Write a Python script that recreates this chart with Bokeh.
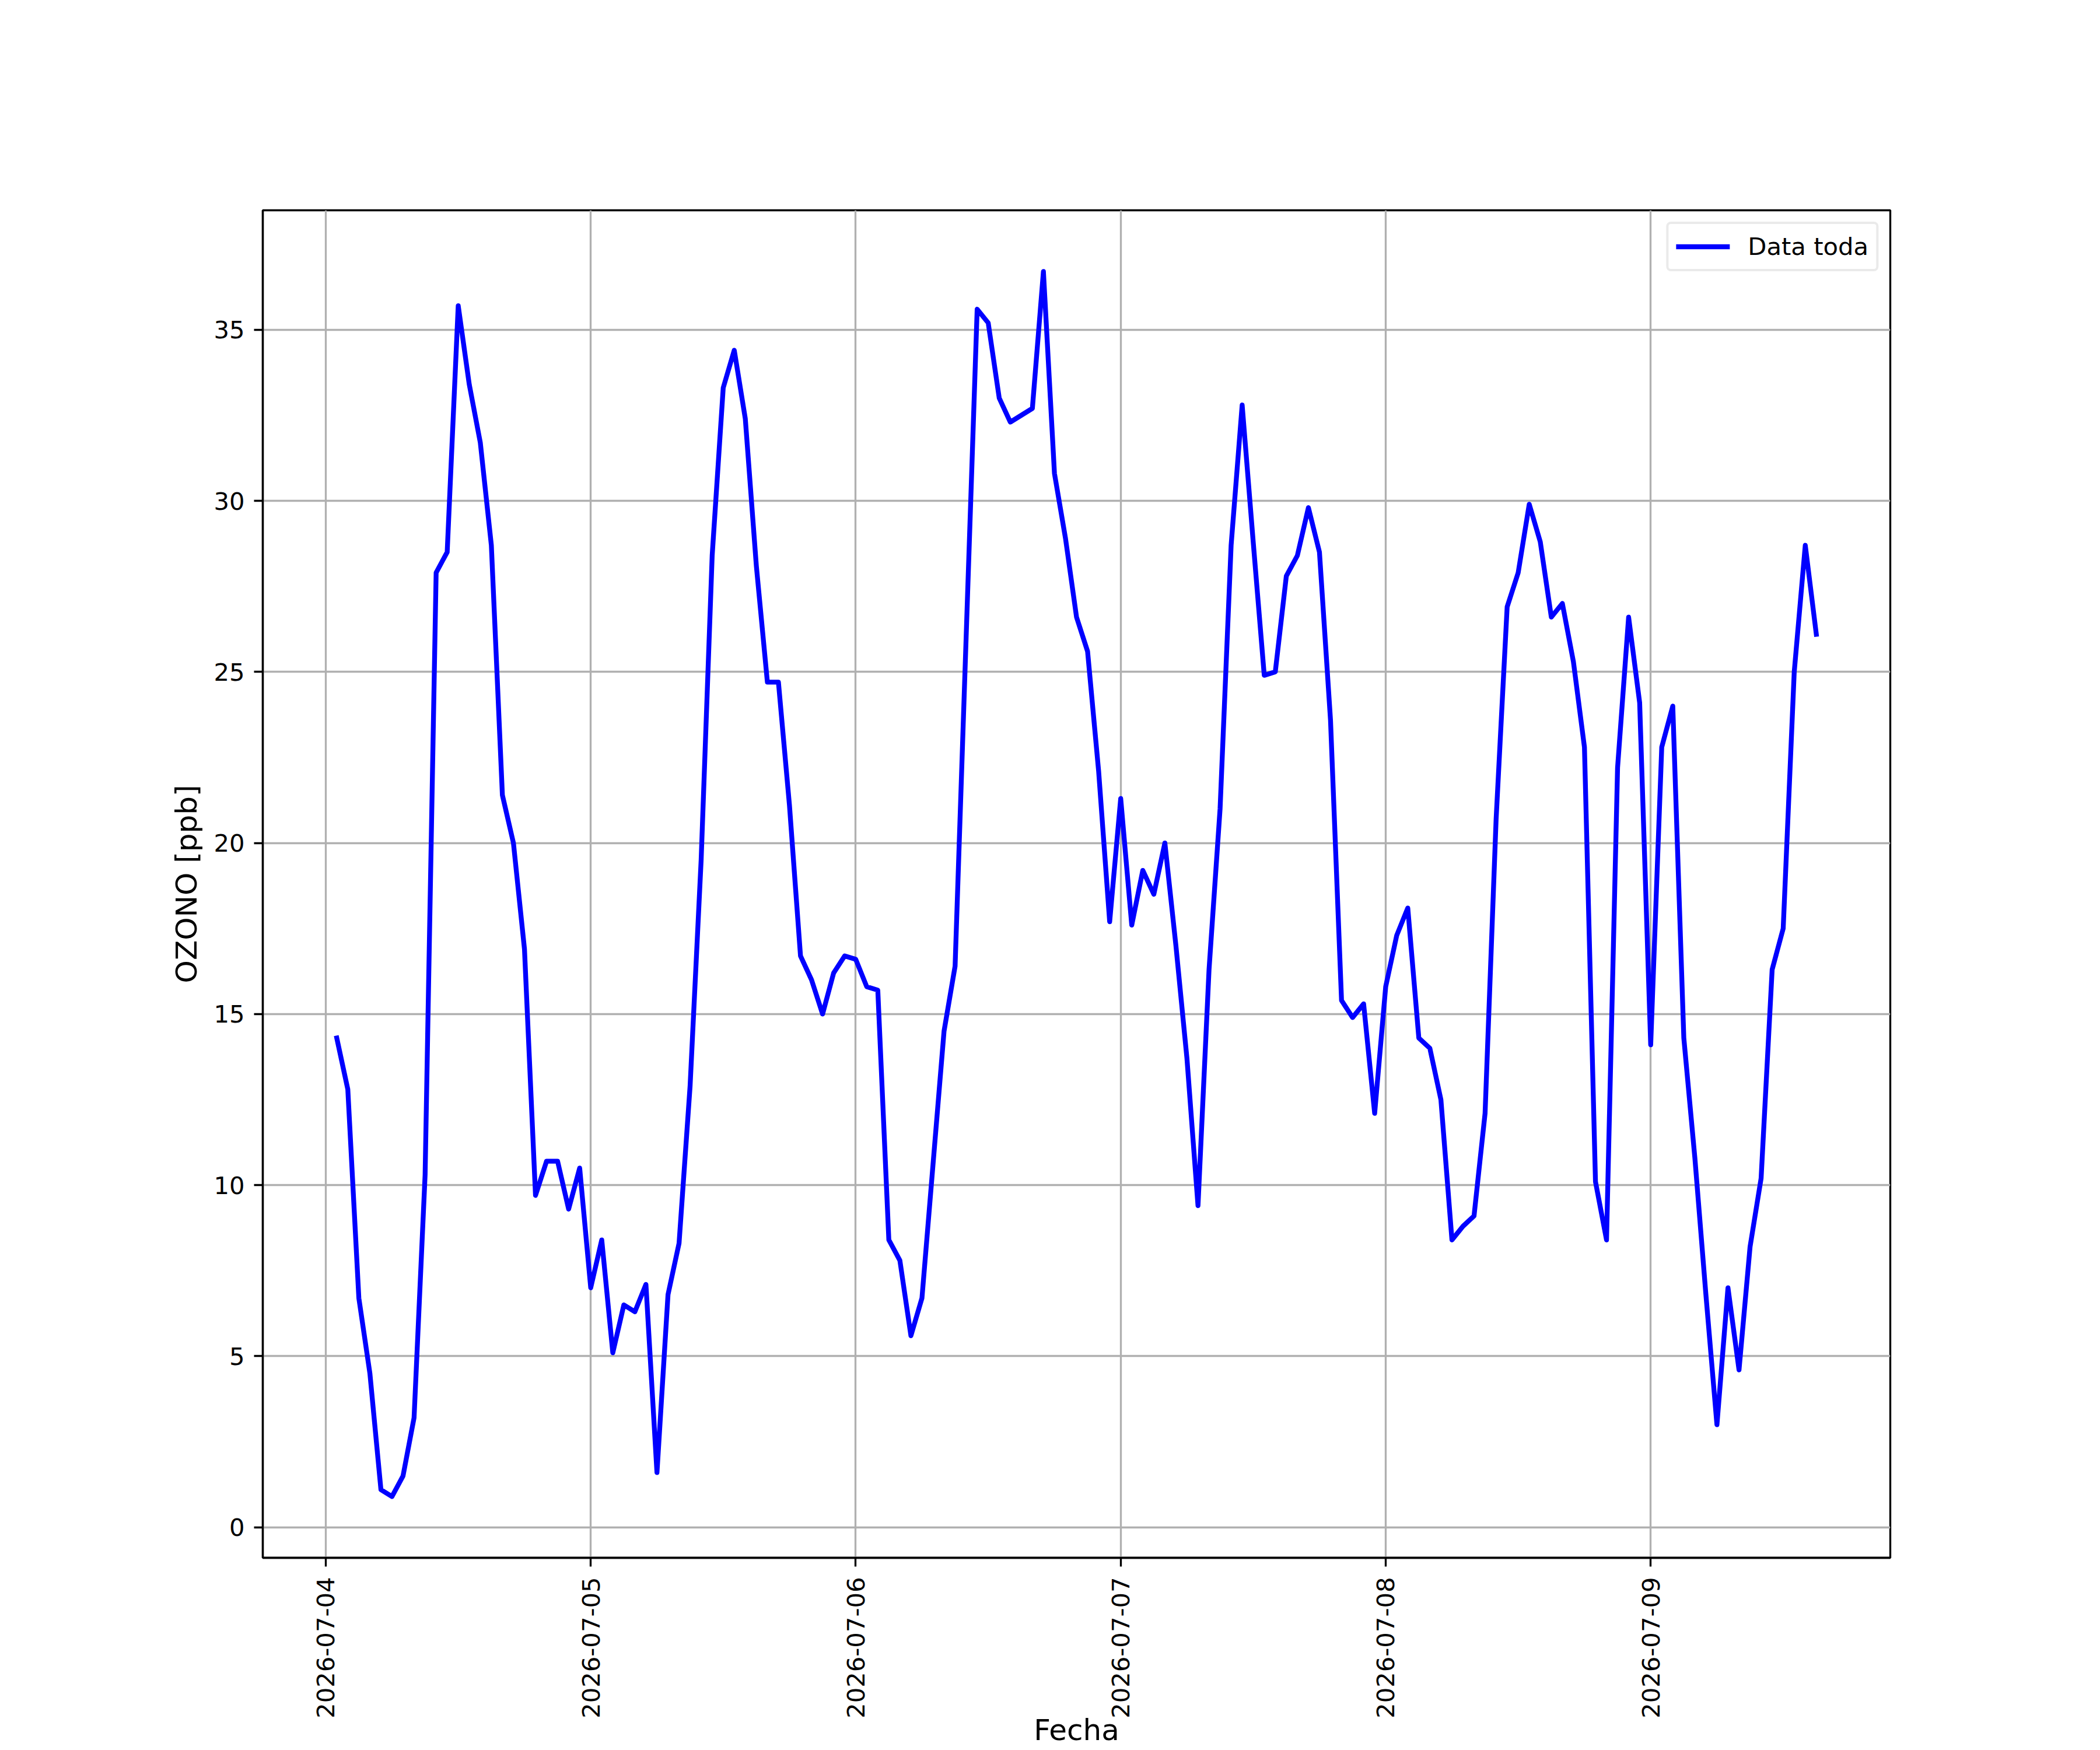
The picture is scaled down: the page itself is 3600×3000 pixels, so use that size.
import math
import pandas as pd
from bokeh.plotting import figure
from bokeh.models import (Range1d, FixedTicker, DatetimeTickFormatter, Legend,
                          LegendItem, ColumnDataSource)
from bokeh.embed import file_html
from bokeh.resources import INLINE

# ---- data (hourly ozone, ppb) ----
start_time = "2026-07-04 01:00"
day_0704 = [14.3, 12.8, 6.7, 4.5, 1.1, 0.9, 1.5, 3.2, 10.3, 27.9, 28.5, 35.7,
            33.4, 31.7, 28.7, 21.4, 20.0, 16.9, 9.7, 10.7, 10.7, 9.3, 10.5]
day_0705 = [7.0, 8.4, 5.1, 6.5, 6.3, 7.1, 1.6, 6.8, 8.3, 12.9, 19.5, 28.4,
            33.3, 34.4, 32.4, 28.1, 24.7, 24.7, 21.1, 16.7, 16.0, 15.0, 16.2, 16.7]
day_0706 = [16.6, 15.8, 15.7, 8.4, 7.8, 5.6, 6.7, 10.6, 14.5, 16.4, 26.0, 35.6,
            35.2, 33.0, 32.3, 32.5, 32.7, 36.7, 30.8, 28.9, 26.6, 25.6, 22.1, 17.7]
day_0707 = [21.3, 17.6, 19.2, 18.5, 20.0, 17.0, 13.7, 9.4, 16.3, 21.0, 28.7, 32.8,
            28.8, 24.9, 25.0, 27.8, 28.4, 29.8, 28.5, 23.6, 15.4, 14.9, 15.3, 12.1]
day_0708 = [15.8, 17.3, 18.1, 14.3, 14.0, 12.5, 8.4, 8.8, 9.1, 12.1, 20.7, 26.9,
            27.9, 29.9, 28.8, 26.6, 27.0, 25.3, 22.8, 10.1, 8.4, 22.2, 26.6, 24.1]
day_0709 = [14.1, 22.8, 24.0, 14.3, 10.8, 6.8, 3.0, 7.0, 4.6, 8.2, 10.2, 16.3,
            17.5, 25.0, 28.7, 26.1]
tick_days = ["2026-07-04", "2026-07-05", "2026-07-06", "2026-07-07",
             "2026-07-08", "2026-07-09"]
y_ticks = [0, 5, 10, 15, 20, 25, 30, 35]
series_label = "Data toda"
x_label = "Fecha"
y_label = "OZONO [ppb]"

values = day_0704 + day_0705 + day_0706 + day_0707 + day_0708 + day_0709
times = pd.date_range(start_time, periods=len(values), freq="h")
src = ColumnDataSource(dict(t=times, v=values))

# ---- ranges with 5% margins (matplotlib style) ----
t0 = times[0].value / 1e6
t1 = times[-1].value / 1e6
tspan = t1 - t0
vmin, vmax = min(values), max(values)
vspan = vmax - vmin
xs, xe = t0 - 0.05 * tspan, t1 + 0.05 * tspan
ys, ye = vmin - 0.05 * vspan, vmax + 0.05 * vspan

FONT = "DejaVu Sans"
W, H = 3600, 3000
FW, FH = 2790, 2310
L, T = 450, 360
R, B = W - L - FW, H - T - FH

p = figure(width=W, height=H, output_backend="svg", toolbar_location=None,
           x_axis_type="datetime",
           x_range=Range1d(xs, xe), y_range=Range1d(ys, ye),
           min_border_left=L, min_border_top=T, min_border_right=R,
           min_border_bottom=B, title=None)
p.background_fill_color = "white"
p.border_fill_color = "white"
p.outline_line_color = "black"
p.outline_line_width = 3.33

r = p.line("t", "v", source=src, line_color="#0000ff", line_width=8.3,
           line_join="round", line_cap="square")

# ticks
p.xaxis.ticker = FixedTicker(ticks=[pd.Timestamp(d).value / 1e6 for d in tick_days])
fmt = "%Y-%m-%d"
p.xaxis.formatter = DatetimeTickFormatter(
    microseconds=fmt, milliseconds=fmt, seconds=fmt, minsec=fmt, minutes=fmt,
    hourmin=fmt, hours=fmt, days=fmt, months=fmt, years=fmt)
p.yaxis.ticker = FixedTicker(ticks=y_ticks)
p.xaxis.major_label_orientation = math.pi / 2

for ax in (p.xaxis, p.yaxis):
    ax.axis_line_color = "black"
    ax.axis_line_width = 3.33
    ax.major_tick_line_color = "black"
    ax.major_tick_line_width = 3.33
    ax.major_tick_out = 15
    ax.major_tick_in = 0
    ax.minor_tick_line_color = None
    ax.major_label_text_font = FONT
    ax.major_label_text_font_size = "41.7px"
    ax.major_label_text_color = "black"
    ax.axis_label_text_font = FONT
    ax.axis_label_text_font_size = "50px"
    ax.axis_label_text_font_style = "normal"
    ax.axis_label_text_color = "black"
p.xaxis.major_label_standoff = 18
p.yaxis.major_label_standoff = 16

p.xaxis.axis_label = x_label
p.xaxis.axis_label_standoff = -12
p.yaxis.axis_label = y_label
p.yaxis.axis_label_standoff = 14

for g in (p.xgrid, p.ygrid):
    g.grid_line_color = "#b0b0b0"
    g.grid_line_width = 3.33

# legend
legend = Legend(items=[LegendItem(label=series_label, renderers=[r])],
                location="top_right")
legend.margin = 20
legend.padding = 13
legend.spacing = 0
legend.glyph_width = 92
legend.glyph_height = 51
legend.label_standoff = 31
legend.label_height = 51
legend.label_text_font = FONT
legend.label_text_font_size = "41.7px"
legend.label_text_color = "black"
legend.border_line_color = "#d6d6d6"
legend.border_line_width = 4
legend.background_fill_color = "white"
legend.background_fill_alpha = 0.8
if "border_radius" in Legend.properties():
    legend.border_radius = 8
p.add_layout(legend)

open("out.html", "w").write(file_html(p, INLINE))
